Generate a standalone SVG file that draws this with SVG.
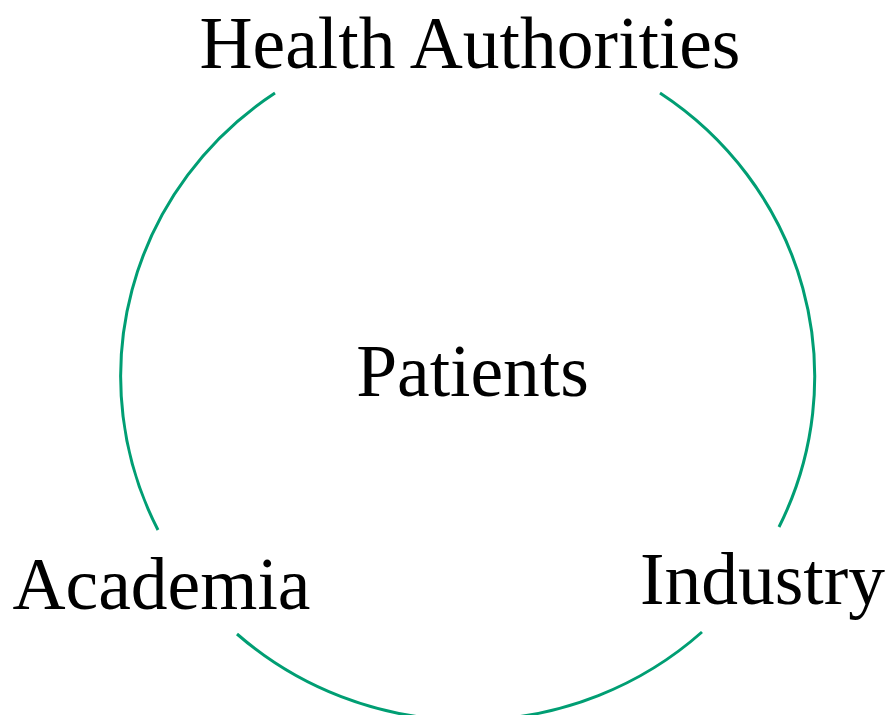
<svg xmlns="http://www.w3.org/2000/svg" width="891" height="715" viewBox="0 0 891 715">
  <style>
    .lbl { font-family: "Liberation Serif", "Times New Roman", serif; font-size: 73.5px; fill: #000000; text-anchor: middle; }
    .ring { fill: none; stroke: #009E73; stroke-width: 3; }
  </style>
  <rect width="891" height="715" fill="#ffffff"/>
  <g id="connectors">
    <path class="ring" d="M660,93 A348,341 0 0 1 779,527"/>
    <path class="ring" d="M702,632 A348,341 0 0 1 237,634"/>
    <path class="ring" d="M158,530 A348,341 0 0 1 275,93"/>
  </g>
  <g id="node-health-authorities">
    <text class="lbl" x="470" y="68">Health Authorities</text>
  </g>
  <g id="node-patients">
    <text class="lbl" x="472.5" y="396">Patients</text>
  </g>
  <g id="node-academia">
    <text class="lbl" x="161.5" y="609">Academia</text>
  </g>
  <g id="node-industry">
    <text class="lbl" x="762.5" y="604">Industry</text>
  </g>
</svg>
